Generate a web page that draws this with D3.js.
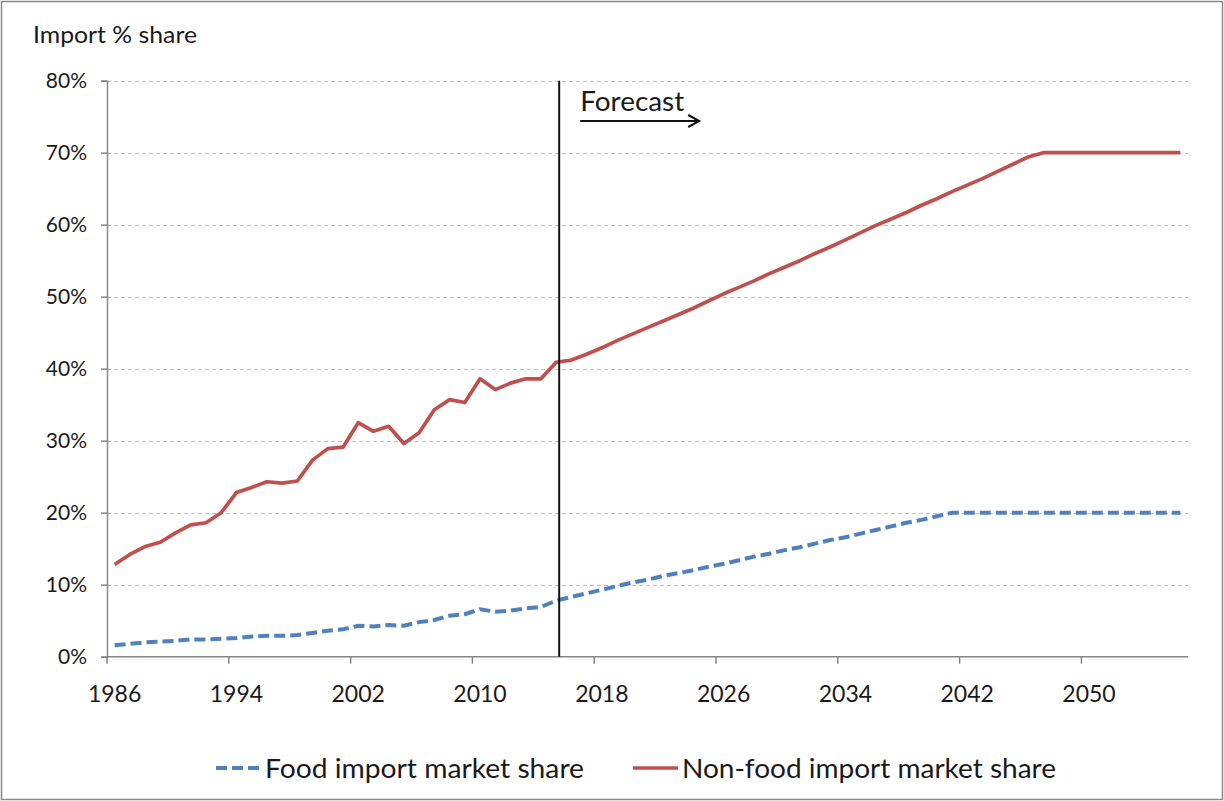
<!DOCTYPE html>
<html>
<head>
<meta charset="utf-8">
<script src="https://cdn.jsdelivr.net/npm/d3@7"></script>
<style>
  html, body { margin: 0; padding: 0; background: #fff; }
  svg { display: block; font-family: Lato, "Open Sans", sans-serif; }
</style>
</head>
<body>
<svg id="chart" width="1224" height="801"></svg>
<script>
// ---- data ----
const years = d3.range(1986, 2057);
const foodShare = [
  1.6, 1.8, 2.0, 2.1, 2.2, 2.4, 2.4, 2.5, 2.6, 2.8,
  2.9, 2.9, 3.0, 3.3, 3.6, 3.8, 4.3, 4.2, 4.4, 4.3,
  4.8, 5.1, 5.7, 5.9, 6.6, 6.25, 6.4, 6.7, 6.9, 7.8,
  8.3, 8.8, 9.3, 9.8, 10.3, 10.7, 11.2, 11.6, 12.0, 12.5,
  12.9, 13.4, 13.9, 14.3, 14.8, 15.2, 15.7, 16.2, 16.6, 17.1,
  17.6, 18.1, 18.6, 19.0, 19.5, 20.0, 20.0, 20.0, 20.0, 20.0,
  20.0, 20.0, 20.0, 20.0, 20.0, 20.0, 20.0, 20.0, 20.0, 20.0, 20.0
];
const nonFoodShare = [
  12.8, 14.2, 15.3, 15.9, 17.2, 18.3, 18.6, 20.0, 22.8, 23.5,
  24.3, 24.1, 24.4, 27.3, 28.9, 29.1, 32.5, 31.3, 32.0, 29.6,
  31.1, 34.3, 35.7, 35.3, 38.6, 37.1, 38.0, 38.6, 38.6, 40.9,
  41.2, 42.0, 42.9, 43.9, 44.8, 45.7, 46.6, 47.5, 48.4, 49.4,
  50.4, 51.3, 52.2, 53.2, 54.1, 55.0, 56.0, 56.9, 57.9, 58.9,
  59.9, 60.8, 61.7, 62.7, 63.6, 64.6, 65.5, 66.4, 67.4, 68.4,
  69.4, 70.0, 70.0, 70.0, 70.0, 70.0, 70.0, 70.0, 70.0, 70.0, 70.0
];
const yTicks = [0, 10, 20, 30, 40, 50, 60, 70, 80];
const xTickYears = [1986, 1994, 2002, 2010, 2018, 2026, 2034, 2042, 2050];
const forecastYear = 2015.2;
const seriesNames = ["Food import market share", "Non-food import market share"];
const yAxisTitle = "Import % share";
const forecastLabel = "Forecast";

// ---- layout ----
const svg = d3.select("#chart");
const plotLeft = 107, plotRight = 1188, plotTop = 80.7, plotBottom = 656.7;
const x = d3.scaleLinear().domain([1985.5, 2056.5]).range([plotLeft, plotRight]);
const y = d3.scaleLinear().domain([0, 80]).range([plotBottom, plotTop]);

const blue = "#4F81BD", red = "#C0504D", axisCol = "#868686", gridCol = "#BEBEBE";

// outer border
svg.append("rect").attr("x", 1.5).attr("y", 1.5).attr("width", 1221).attr("height", 798)
  .attr("fill", "none").attr("stroke", "#8a8a8a").attr("stroke-width", 1.5);

// gridlines
svg.append("g").selectAll("line").data(yTicks.filter(d => d > 0)).join("line")
  .attr("x1", plotLeft).attr("x2", plotRight)
  .attr("y1", d => Math.round(y(d)) + 0.5).attr("y2", d => Math.round(y(d)) + 0.5)
  .attr("stroke", gridCol).attr("stroke-width", 1).attr("stroke-dasharray", "4,3");

// y axis
const yAxis = d3.axisLeft(y).tickValues(yTicks).tickFormat(d => d + "%").tickSize(6).tickPadding(14);
const gy = svg.append("g").attr("transform", `translate(${plotLeft},0)`).call(yAxis);
gy.select(".domain").attr("stroke", axisCol).attr("stroke-width", 1.5);
gy.selectAll(".tick line").attr("stroke", axisCol).attr("stroke-width", 1.5);
gy.selectAll(".tick text").attr("font-size", 21).attr("fill", "#1a1a1a").attr("font-family", "Lato, sans-serif");

// x axis: ticks at category boundaries, labels at category centres
const gx = svg.append("g").attr("transform", `translate(0,${plotBottom})`);
gx.append("line").attr("x1", plotLeft).attr("x2", plotRight).attr("y1", 0).attr("y2", 0)
  .attr("stroke", axisCol).attr("stroke-width", 1.5);
gx.selectAll("line.tk").data(xTickYears).join("line").attr("class", "tk")
  .attr("x1", d => x(d - 0.5)).attr("x2", d => x(d - 0.5))
  .attr("y1", 0).attr("y2", 7).attr("stroke", axisCol).attr("stroke-width", 1.5);
gx.selectAll("text").data(xTickYears).join("text")
  .attr("x", d => x(d)).attr("y", 45).attr("text-anchor", "middle")
  .attr("font-size", 23).attr("fill", "#1a1a1a").text(d => d);

// y title
svg.append("text").attr("x", 33).attr("y", 43).attr("font-size", 23.5).attr("fill", "#1a1a1a")
  .attr("textLength", 164).attr("lengthAdjust", "spacingAndGlyphs").text(yAxisTitle);

// lines
const lineGen = vals => d3.line().x((d, i) => x(years[i])).y(d => y(d))(vals);
svg.append("path").attr("d", lineGen(foodShare)).attr("fill", "none")
  .attr("stroke", blue).attr("stroke-width", 4).attr("stroke-dasharray", "11,5");
svg.append("path").attr("d", lineGen(nonFoodShare)).attr("fill", "none")
  .attr("stroke", red).attr("stroke-width", 3.7).attr("stroke-linejoin", "round");

// forecast marker
svg.append("line").attr("x1", x(forecastYear)).attr("x2", x(forecastYear))
  .attr("y1", y(80)).attr("y2", plotBottom).attr("stroke", "#111").attr("stroke-width", 2);
svg.append("text").attr("x", x(forecastYear) + 21).attr("y", 111).attr("font-size", 26)
  .attr("fill", "#1a1a1a").attr("textLength", 104).attr("lengthAdjust", "spacingAndGlyphs").text(forecastLabel);
const ax0 = x(forecastYear) + 21, ax1 = x(forecastYear) + 140, ay = 121;
svg.append("line").attr("x1", ax0).attr("x2", ax1).attr("y1", ay).attr("y2", ay)
  .attr("stroke", "#111").attr("stroke-width", 2);
svg.append("path").attr("d", `M${ax1 - 11},${ay - 6} L${ax1},${ay} L${ax1 - 11},${ay + 6}`)
  .attr("fill", "none").attr("stroke", "#111").attr("stroke-width", 2);

// legend
const legY = 768;
const leg = [
  { name: seriesNames[0], color: blue, dash: "11,5", w: 4, x0: 216, x1: 262, tx: 265, len: 319 },
  { name: seriesNames[1], color: red, dash: null, w: 3.7, x0: 633, x1: 678, tx: 682, len: 374 }
];
leg.forEach(l => {
  svg.append("line").attr("x1", l.x0).attr("x2", l.x1).attr("y1", legY).attr("y2", legY)
    .attr("stroke", l.color).attr("stroke-width", l.w).attr("stroke-dasharray", l.dash);
  svg.append("text").attr("x", l.tx).attr("y", legY + 10).attr("font-size", 26.5)
    .attr("fill", "#1a1a1a").attr("textLength", l.len).attr("lengthAdjust", "spacingAndGlyphs").text(l.name);
});
</script>
</body>
</html>
